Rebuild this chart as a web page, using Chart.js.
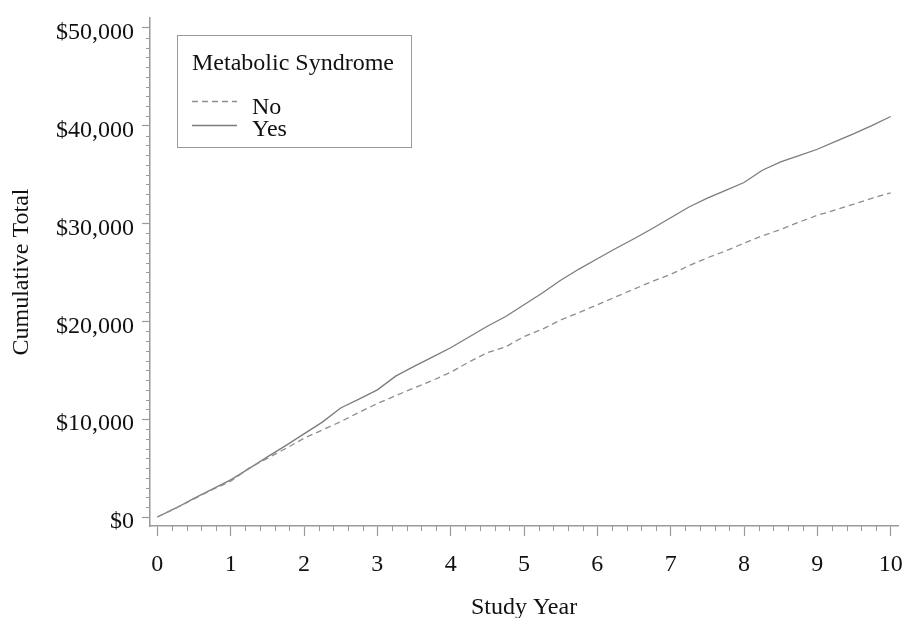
<!DOCTYPE html>
<html>
<head>
<meta charset="utf-8">
<title>Cumulative Total by Study Year</title>
<script src="https://cdn.jsdelivr.net/npm/chart.js@4.4.1/dist/chart.umd.min.js"></script>
<style>
  html, body { margin: 0; padding: 0; background: #fff; }
  #wrap { width: 904px; height: 618px; }
</style>
</head>
<body>
<div id="wrap"><canvas id="graph" width="904" height="618"></canvas></div>
<script>
'use strict'

// data, quarter-year steps
let years = [0, 0.25, 0.5, 0.75, 1, 1.25, 1.5, 1.75, 2, 2.25, 2.5, 2.75, 3, 3.25, 3.5, 3.75, 4, 4.25, 4.5, 4.75,
             5, 5.25, 5.5, 5.75, 6, 6.25, 6.5, 6.75, 7, 7.25, 7.5, 7.75, 8, 8.25, 8.5, 8.75, 9, 9.25, 9.5, 9.75, 10];
let costNo = [0, 900, 1850, 2800, 3650, 5000, 6000, 7000, 8050, 8900, 9750, 10700, 11600, 12400, 13200, 13950, 14800, 15850, 16800, 17400,
              18450, 19200, 20150, 20900, 21700, 22500, 23300, 24100, 24800, 25700, 26500, 27200, 28000, 28750, 29400, 30150, 30850, 31400, 32000, 32600, 33150];
let costYes = [0, 900, 1900, 2850, 3800, 4950, 6150, 7300, 8500, 9700, 11150, 12050, 13000, 14400, 15400, 16350, 17300, 18400, 19500, 20500,
               21700, 22900, 24200, 25350, 26400, 27450, 28450, 29500, 30600, 31700, 32600, 33400, 34200, 35450, 36300, 36950, 37600, 38400, 39200, 40050, 40950];
let seriesNames = ['No', 'Yes'];
let legendTitle = 'Metabolic Syndrome';
let xTicks = [0, 1, 2, 3, 4, 5, 6, 7, 8, 9, 10];
let yTicks = [0, 10000, 20000, 30000, 40000, 50000];

let fontFamily = '"Liberation Serif", "Times New Roman", serif';
let axisColor = '#9a9a9a';
let textColor = '#111';

function points(ys) {
    let out = [];
    for (let i = 0; i < years.length; i++) {
        out.push({x: years[i], y: ys[i]});
    }
    return out;
}

function money(v) {
    return '$' + String(v).replace(/\B(?=(\d{3})+(?!\d))/g, ',');
}

// minor tick positions between the labelled ones
let xMinor = [];
for (let i = 0; i < xTicks.length - 1; i++) {
    [0.2, 0.4, 0.6, 0.8].forEach(f => xMinor.push(xTicks[i] + f));
}
let yMinor = [];
for (let i = 0; i < yTicks.length - 1; i++) {
    for (let k = 1; k < 10; k++) yMinor.push(yTicks[i] + k * 1000);
}

let minorTicks = {
    id: 'minorTicks',
    afterDraw(chart) {
        let ctx = chart.ctx;
        let area = chart.chartArea;
        let xs = chart.scales.x;
        let ys = chart.scales.y;
        ctx.save();
        ctx.strokeStyle = axisColor;
        ctx.lineWidth = 1;
        ctx.beginPath();
        xMinor.forEach(v => {
            let px = Math.round(xs.getPixelForValue(v)) + 0.5;
            ctx.moveTo(px, area.bottom);
            ctx.lineTo(px, area.bottom + 5);
        });
        yMinor.forEach(v => {
            let py = Math.round(ys.getPixelForValue(v)) + 0.5;
            ctx.moveTo(area.left, py);
            ctx.lineTo(area.left - 4, py);
        });
        ctx.stroke();
        ctx.restore();
    }
};

let legendBox = {
    id: 'legendBox',
    afterDraw(chart) {
        let ctx = chart.ctx;
        ctx.save();
        ctx.strokeStyle = axisColor;
        ctx.lineWidth = 1;
        ctx.strokeRect(177.5, 35.5, 234, 112);
        ctx.fillStyle = textColor;
        ctx.font = '24px ' + fontFamily;
        ctx.textBaseline = 'middle';
        ctx.fillText(legendTitle, 192, 64);
        let rows = [{line: 101, text: 108}, {line: 125, text: 130}];
        chart.data.datasets.forEach((ds, i) => {
            ctx.strokeStyle = ds.borderColor;
            ctx.lineWidth = ds.borderWidth;
            ctx.setLineDash(ds.borderDash || []);
            ctx.beginPath();
            ctx.moveTo(192, rows[i].line + 0.5);
            ctx.lineTo(237, rows[i].line + 0.5);
            ctx.stroke();
            ctx.setLineDash([]);
            ctx.fillText(ds.label, 252, rows[i].text);
        });
        ctx.restore();
    }
};

Chart.defaults.font.family = fontFamily;

new Chart('graph', {
    type: 'line',
    data: {
        datasets: [{
            label: seriesNames[0],
            data: points(costNo),
            borderColor: '#8e8e8e',
            borderWidth: 1.3,
            borderDash: [6, 4],
            pointRadius: 0,
            tension: 0,
            fill: false
        }, {
            label: seriesNames[1],
            data: points(costYes),
            borderColor: '#7c7c7c',
            borderWidth: 1.3,
            pointRadius: 0,
            tension: 0,
            fill: false
        }]
    },
    options: {
        responsive: false,
        animation: false,
        layout: { padding: { top: 18, right: 6, left: 0, bottom: 0 } },
        plugins: {
            legend: { display: false },
            tooltip: { enabled: false }
        },
        scales: {
            x: {
                type: 'linear',
                min: -0.1,
                max: 10.1,
                afterBuildTicks: s => { s.ticks = xTicks.map(v => ({value: v})); },
                afterFit: s => { s.height = 92; s.paddingLeft = 0; s.paddingRight = 0; },
                grid: { drawOnChartArea: false, drawTicks: true, tickLength: 10, tickColor: axisColor, tickWidth: 1.2 },
                border: { color: axisColor, width: 1.5 },
                ticks: {
                    font: { size: 24 },
                    color: textColor,
                    padding: 14,
                    maxRotation: 0,
                    autoSkip: false,
                    callback: v => String(v)
                },
                title: {
                    display: true,
                    text: 'Study Year',
                    color: textColor,
                    font: { size: 24, lineHeight: 1 },
                    padding: { top: 0, bottom: -2 }
                }
            },
            y: {
                type: 'linear',
                min: -920,
                max: 51020,
                afterBuildTicks: s => { s.ticks = yTicks.map(v => ({value: v})); },
                afterFit: s => { s.width = 150; s.paddingTop = 0; s.paddingBottom = 0; },
                grid: { drawOnChartArea: false, drawTicks: true, tickLength: 8, tickColor: axisColor, tickWidth: 1.2 },
                border: { color: axisColor, width: 1.5 },
                ticks: {
                    font: { size: 24 },
                    color: textColor,
                    padding: 8,
                    labelOffset: 5,
                    autoSkip: false,
                    callback: v => money(v)
                },
                title: {
                    display: true,
                    text: 'Cumulative Total',
                    color: textColor,
                    font: { size: 24, lineHeight: 1 },
                    padding: { top: 10, bottom: 0 }
                }
            }
        }
    },
    plugins: [minorTicks, legendBox]
});
</script>
</body>
</html>
